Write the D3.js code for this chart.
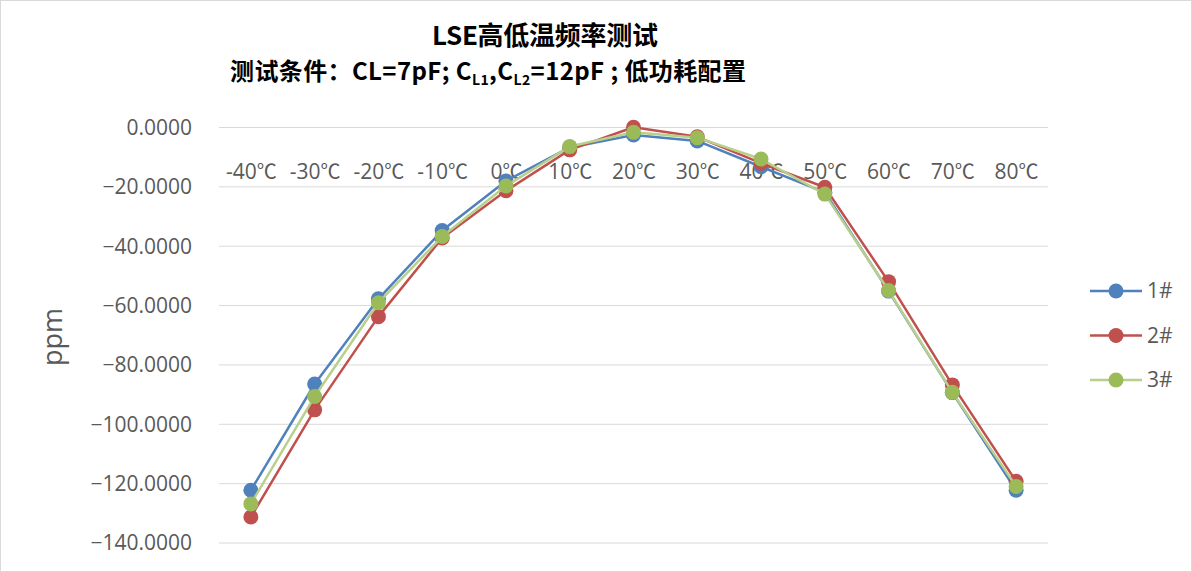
<!DOCTYPE html>
<html><head><meta charset="utf-8">
<script src="https://cdn.jsdelivr.net/npm/d3@7"></script>
<style>html,body{margin:0;padding:0;background:#fff;}svg{display:block;}</style>
</head><body>
<svg id="chart" width="1192" height="572"></svg>
<script>
const categories = ['-40℃','-30℃','-20℃','-10℃','0℃','10℃','20℃','30℃','40℃','50℃','60℃','70℃','80℃'];
const series1 = [-122.4, -86.6, -57.9, -34.9, -18.2, -6.9, -2.7, -4.7, -13.4, -22.0, -55.3, -89.5, -122.4];
const series2 = [-131.4, -95.3, -63.9, -37.4, -21.5, -7.7, -0.1, -3.3, -12.2, -20.3, -52.1, -86.9, -119.4];
const series3 = [-127.0, -90.8, -59.2, -36.9, -19.9, -6.6, -1.8, -3.6, -10.8, -22.6, -55.1, -89.4, -121.1];
const seriesNames = ['1#','2#','3#'];
const yTicks = [0, -20, -40, -60, -80, -100, -120, -140];

const svg = d3.select('#chart');
const W = 1192, H = 572;
svg.append('rect').attr('x',0.5).attr('y',0.5).attr('width',W-1).attr('height',H-1)
  .attr('fill','#fff').attr('stroke','#d9d9d9');

const x = d3.scalePoint().domain(categories).range([219, 1048]).padding(0.5);
const y = d3.scaleLinear().domain([-140, 0]).range([542.5, 127]);

// gridlines
svg.append('g').selectAll('line').data(yTicks).join('line')
  .attr('x1',219).attr('x2',1048)
  .attr('y1',d=>y(d)+0.5).attr('y2',d=>y(d)+0.5)
  .attr('stroke','#d9d9d9').attr('stroke-width',1);

// y axis labels
const yAxis = d3.axisLeft(y).tickValues(yTicks).tickFormat(d3.format('.4f')).tickSize(0).tickPadding(0);
const gy = svg.append('g').attr('transform','translate(192,0)').call(yAxis);
gy.select('.domain').remove();
gy.selectAll('text').attr('font-family','"Open Sans", sans-serif').attr('font-size',21)
  .attr('fill','#595959').attr('dy','0.35em');

// x axis labels (axis sits at y=0)
const xAxis = d3.axisBottom(x).tickSize(0).tickPadding(0);
const gx = svg.append('g').attr('transform',`translate(0,${y(0)})`).call(xAxis);
gx.select('.domain').remove();
gx.selectAll('text').attr('font-family','"Open Sans", sans-serif').attr('font-size',21)
  .attr('fill','#595959').attr('dy',0).attr('y',52)
  .each(function(d){
    const t = d3.select(this);
    const num = d.replace('℃','');
    t.text(null);
    t.append('tspan').text(num);
    t.append('tspan').attr('font-family','"Noto Sans CJK SC", sans-serif').attr('font-size',20).text('℃');
  });

// y axis title
svg.append('text').attr('transform','translate(62,337) rotate(-90)')
  .attr('text-anchor','middle').attr('font-family','"Open Sans", sans-serif')
  .attr('font-size',27).attr('fill','#595959').text('ppm');

// title
svg.append('text').attr('x',432).attr('y',45)
  .attr('font-family','"Noto Sans CJK SC", sans-serif').attr('font-weight','bold')
  .attr('font-size',26).attr('fill','#000')
  .attr('textLength',226).attr('lengthAdjust','spacing').text('LSE高低温频率测试');

const t2 = svg.append('text').attr('x',230).attr('y',80)
  .attr('font-family','"Noto Sans CJK SC", sans-serif').attr('font-weight','bold')
  .attr('font-size',24).attr('fill','#000');
t2.append('tspan').text('测试条件：CL=7pF; C');
t2.append('tspan').attr('font-size',14).attr('dy',5).text('L1');
t2.append('tspan').attr('dy',-5).text(',C');
t2.append('tspan').attr('font-size',14).attr('dy',5).text('L2');
t2.append('tspan').attr('dy',-5).text('=12pF ; 低功耗配置');
t2.attr('textLength',516).attr('lengthAdjust','spacing');

// series
const allSeries = [
  {name: seriesNames[0], values: series1, line: '#4F81BD', marker: '#4F81BD'},
  {name: seriesNames[1], values: series2, line: '#C0504D', marker: '#C0504D'},
  {name: seriesNames[2], values: series3, line: '#B9D08C', marker: '#9BBB59'}
];
const lineGen = d3.line().x((d,i)=>x(categories[i])).y(d=>y(d));
allSeries.forEach(s => {
  const g = svg.append('g');
  g.append('path').datum(s.values).attr('d',lineGen)
    .attr('fill','none').attr('stroke',s.line).attr('stroke-width',2.5).attr('stroke-linejoin','round');
  g.selectAll('circle').data(s.values).join('circle')
    .attr('cx',(d,i)=>x(categories[i])).attr('cy',d=>y(d)).attr('r',7.5)
    .attr('fill',s.marker);
});

// legend
const leg = svg.append('g');
allSeries.forEach((s,i) => {
  const ly = 291 + i*44.5;
  leg.append('line').attr('x1',1090).attr('x2',1142).attr('y1',ly).attr('y2',ly)
    .attr('stroke',s.line).attr('stroke-width',2.5);
  leg.append('circle').attr('cx',1116).attr('cy',ly).attr('r',7.5).attr('fill',s.marker);
  leg.append('text').attr('x',1147).attr('y',ly).attr('dy','0.35em')
    .attr('font-family','"Open Sans", sans-serif').attr('font-size',21).attr('fill','#595959')
    .text(s.name);
});
</script>
</body></html>
